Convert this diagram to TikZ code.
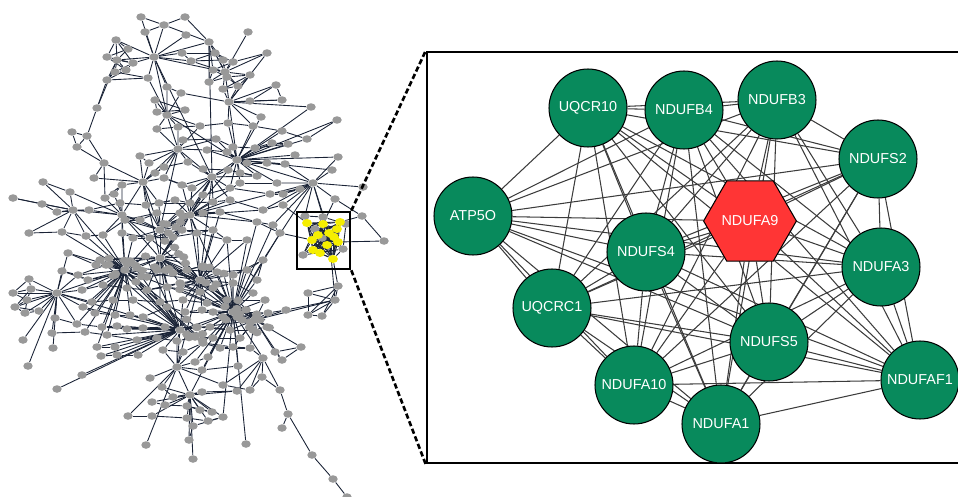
\documentclass[tikz,border=0pt]{standalone}
\usepackage{fontspec}
\setmainfont{Liberation Sans}
\usepackage{tikz}
\usetikzlibrary{shapes.geometric,backgrounds}
\definecolor{navy}{HTML}{1A2336}
\definecolor{dotgray}{HTML}{999999}
\definecolor{hitcol}{HTML}{F5EE00}
\definecolor{genegreen}{HTML}{088A5C}
\definecolor{seedred}{HTML}{FF3535}
\definecolor{wire}{HTML}{3C3C3C}

% gray leaves of the network: x/y/first hub/second hub
\newcommand{\netleaves}{141/17/ha/ha, 185/17/hc/hc, 164/25/ha/hc, 145/32/ha/ha, 248/32/hd/hd,
  186/35/ha/ha, 128/49/hb/hb, 116/40/hb/ha, 107/57/hb/hb, 133/63/hb/ha, 126/70/hb/hb,
  115/72/hb/hb, 107/80/hb/hf, 148/78/ha/hj, 182/53/ha/ha, 191/61/ha/hd, 215/53/hd/hd,
  223/60/hd/hc, 233/62/hd/hd, 267/53/hd/he, 213/70/hd/hc, 209/82/hd/hc, 227/77/hd/hd,
  250/75/hd/he, 238/86/hd/he, 223/89/hd/he, 167/87/ha/hj, 181/93/hj/he, 276/85/he/he,
  250/101/he/he, 282/100/he/he, 155/100/hj/hj, 157/112/hj/hj, 185/110/hj/hj, 311/107/he/hi,
  261/117/he/hi, 72/132/hg/hg, 77/147/hg/hh, 157/129/hj/hk, 178/127/hj/hk, 200/126/hj/hk,
  228/123/he/hi, 253/126/he/hi, 282/131/hi/hi, 337/120/hi/hi, 307/139/hi/hi, 183/140/hk/hk,
  216/139/hi/hk, 233/147/hi/hi, 255/148/hi/hi, 272/143/hi/hi, 288/144/hi/hi, 140/156/hk/hm,
  149/163/hk/hm, 338/157/hi/hB, 295/155/hi/hi, 207/150/hk/hi, 227/152/hi/hi, 247/163/hi/hi,
  267/163/hi/hi, 285/164/hi/hB, 188/162/hk/hl, 164/167/hk/hm, 155/173/hm/hm, 203/169/hl/hl,
  228/170/hi/hl, 240/173/hi/hi, 257/176/hi/hl, 332/170/hB/hi, 94/178/hh/hm, 164/178/hm/hk,
  182/185/hl/hp, 192/188/hl/hp, 240/183/hi/hp, 277/183/hi/hB, 363/187/hB/hB, 43/182/hD/hD,
  70/192/hD/hn, 122/185/hm/hn, 114/194/hn/hn, 105/198/hn/hh, 203/195/hl/hp, 230/188/hl/hi,
  270/194/hB/hp, 283/194/hB/hB, 300/189/hB/hB, 13/198/hD/hD, 42/204/hD/hD, 57/212/hD/hD,
  89/210/hn/hD, 120/203/hn/hn, 146/205/hm/ho, 159/203/hm/ho, 175/200/hp/hp, 190/203/hp/hp,
  213/202/hp/hl, 230/200/hp/hl, 263/210/hp/hB, 283/205/hB/y1, 335/199/hB/y2, 362/216/y3/y3,
  384/241/y7/y7, 29/233/hD/hD, 62/232/hD/hq, 86/236/hD/hq, 103/235/hn/hq, 125/220/hn/ho,
  140/220/ho/hn, 157/213/ho/ho, 180/213/hp/ho, 203/213/hp/hp, 220/212/hp/hs, 257/222/hp/ht,
  273/225/hB/ht, 280/233/ht/y8, 122/233/hq/hn, 133/238/hq/ho, 150/238/ho/ho, 173/237/ho/hr,
  182/230/hp/hr, 197/233/hp/hs, 213/230/hp/hs, 227/240/hs/ht, 247/240/hs/ht, 68/253/hv/hq,
  96/265/hq/hq, 106/265/hq/hq, 62/271/hv/hv, 78/275/hv/hq, 88/280/hq/hq, 115/275/hq/hq,
  137/268/hq/hr, 147/277/hq/hr, 157/270/hr/hr, 173/273/hr/hs, 187/270/hs/hr, 203/266/hs/hs,
  217/272/hs/ht, 233/275/hs/ht, 247/270/ht/ht, 263/260/ht/hB, 257/280/ht/ht, 29/279/hv/hv,
  13/293/hv/hv, 31/289/hv/hv, 27/300/hv/hv, 15/307/hv/hv, 25/313/hv/hv, 39/311/hv/hv,
  82/290/hq/hv, 103/285/hq/hq, 127/288/hq/hq, 147/290/hq/hr, 167/287/hr/hr, 180/283/hr/hs,
  200/292/hs/hs, 213/288/hs/hs, 233/283/ht/hs, 253/293/ht/ht, 92/302/hq/hv, 113/300/hq/hq,
  133/300/hq/hw, 160/302/hr/hw, 183/300/hs/hw, 207/303/hs/ht, 227/300/ht/ht, 265/300/ht/hu,
  308/293/hC/hC, 338/286/hC/y13, 308/315/hC/hC, 322/316/hC/hC, 83/307/hv/hq, 95/313/hq/hq,
  115/315/hq/hw, 130/315/hq/hw, 143/317/hw/hw, 167/307/hw/hr, 185/312/hw/hs, 202/310/hs/ht,
  213/312/ht/ht, 223/317/ht/ht, 237/317/ht/hu, 268/313/hu/ht, 286/310/hu/hC, 55/318/hv/hv,
  77/324/hv/hq, 102/327/hq/hw, 117/326/hw/hw, 127/329/hw/hw, 143/328/hw/hw, 165/327/hw/hw,
  197/327/hw/ht, 210/327/ht/ht, 230/330/ht/hu, 253/330/hu/hu, 267/327/hu/hu, 52/333/hv/hv,
  85/332/hq/hq, 107/335/hw/hq, 137/340/hw/hw, 157/338/hw/hw, 177/341/hw/hy, 195/337/ht/hw,
  213/338/ht/ht, 240/338/hu/ht, 23/340/hv/hv, 97/347/hw/hq, 115/347/hw/hw, 163/350/hw/hy,
  183/352/hy/hy, 203/343/ht/hy, 220/348/ht/ht, 233/347/hu/hu, 250/348/hu/hE, 53/348/hv/hv,
  101/356/hw/hw, 117/355/hw/hw, 138/355/hw/hw, 195/362/hy/ht, 208/357/ht/ht, 275/352/hu/hu,
  282/360/hu/hu, 301/347/hu/hu, 28/366/hv/hv, 202/370/hy/ht, 238/366/ht/ht, 82/375/hw/hw,
  150/378/hy/hy, 262/377/hE/hz, 250/390/hE/hE, 57/389/hw/hw, 223/385/hE/hy, 162/387/hx/hy,
  173/397/hx/hx, 202/392/hx/hx, 237/391/hE/hx, 152/402/hx/hx, 165/405/hx/hx, 187/406/hx/hx,
  200/410/hx/hx, 212/412/hx/hx, 128/416/hy/hy, 152/416/hx/hx, 187/418/hx/hx, 208/421/hx/hx,
  223/417/hx/ht, 282/428/hz1/hz1, 193/426/hx/hx, 189/440/hx/hx, 146/445/hy/hy, 246/444/ht/ht,
  193/459/hx/hx, 347/497/hz3/hz3, 305/216/hB/y1, 323/217/y2/hB, 346/224/y3/y3,
  315/229/y9/y1, 343/249/y7/y13, 303/255/y11/y8, 322/238/y8/y10}
% dense core: hub/partner
\newcommand{\corehubs}{hq/hr, hr/hs, hs/ht, ht/hu, hw/hq, hu/hs, ho/hp, hq/hw}

\begin{document}
\begin{tikzpicture}[x=0.02cm, y=-0.02cm,
    gnode/.style={ellipse, fill=dotgray, minimum width=0.19cm, minimum height=0.15cm, inner sep=0pt},
    hitnode/.style={gnode, fill=hitcol, minimum width=0.2cm, minimum height=0.16cm},
    net/.style={draw=navy, line width=0.5pt},
    gene/.style={circle, draw=black, line width=0.6pt, fill=genegreen, minimum size=1.56cm, inner sep=0pt,
      text=white, font=\fontsize{8.2}{9.8}\selectfont},
    seed/.style={regular polygon, regular polygon sides=6, draw=black, line width=0.6pt, fill=seedred,
      minimum size=1.66cm, inner sep=0pt, text=white, font=\fontsize{8.2}{9.8}\selectfont},
    ppi/.style={draw=wire, line width=0.6pt},
    frame/.style={draw=black, line width=1.5pt, inner sep=0pt},
    zoomline/.style={draw=black, line width=1.5pt, dash pattern=on 3pt off 1.6pt}
  ]
  \useasboundingbox (0,0) rectangle (958,497);

  % hubs of the network
  \foreach \n/\x/\y in {ha/154/57, hb/117/60, hc/209/42, hd/225/72, he/229/102, hf/97/108,
      hg/87/136, hh/104/163, hi/237/160, hj/167/115, hk/178/149, hl/212/177, hm/143/182,
      hn/122/215, ho/160/230, hp/190/215, hq/125/270, hr/160/258, hs/200/280, ht/233/312,
      hu/255/320, hv/57/293, hw/180/330, hx/190/395, hy/177/367, hz/280/390, hz1/288/414,
      hz2/312/455, hz3/333/479, hB/313/183, hC/335/300, hD/73/210, hE/263/358}
    \node[gnode] (\n) at (\x,\y) {};
  \foreach \x/\y/\p/\q [count=\i] in \netleaves
    \node[gnode] (l\i) at (\x,\y) {};
  \pgfmathsetseed{11}
  \foreach \h/\g in \corehubs {
    \foreach \k in {1,...,7} {
      \pgfmathsetmacro\dx{rand*26}\pgfmathsetmacro\dy{rand*15}
      \node[gnode] (c\h\k) at ([shift={(\dx,\dy)}]\h) {};
    }
  }
  % yellow cluster
  \foreach \n/\x/\y in {y1/307/223, y2/323/224, y3/340/222, y4/337/229, y5/329/233, y6/334/237,
      y7/338/242, y8/312/240, y9/318/235, y10/327/245, y11/313/250, y12/320/253, y13/333/259}
    \node[hitnode] (\n) at (\x,\y) {};

  \begin{pgfonlayer}{background}
    \foreach \a/\b in {ha/hb, ha/hc, ha/hj, ha/hd, hb/hf, hf/hg, hg/hh, hh/hm, hc/hd, hc/hl,
        hd/he, he/hi, hj/hk, hk/hl, hj/hi, hi/hl, hl/hp, hm/hn, hm/ho, hk/ho, hn/hq, ho/hr,
        hp/hr, hq/hr, hr/hs, hs/ht, ht/hu, hq/hv, hr/hw, hw/hy, hy/hx, ht/hE, hE/hz, hz/hz1,
        hz1/hz2, hz2/hz3, hu/hC, hi/hB, hB/y5, y5/hC, hp/hs, hD/hq, hD/hn, hl/hs, hi/hp, hw/ht,
        hq/hw, hs/hu, ho/hq, hp/ho, hn/ho, hr/ht, hq/hs, hk/hm, hl/ho, hx/ht, hy/hs,
        ha/hl, hn/hr, ho/hs, hp/ht, hq/ht, hr/hu, hm/hr, hw/hu, hv/hw, hn/hs, hl/hr}
      \draw[net] (\a) -- (\b);
    \gdef\px{-99}\gdef\py{-99}\gdef\ppx{-99}\gdef\ppy{-99}
    \foreach \x/\y/\p/\q [count=\i] in \netleaves {
      \draw[net] (l\i) -- (\p) (l\i) -- (\q);
      \pgfmathtruncatemacro\near{veclen(\x-\px,\y-\py)<42}
      \ifnum\near=1 \pgfmathtruncatemacro\k{\i-1}\draw[net] (l\i) -- (l\k); \fi
      \pgfmathtruncatemacro\near{veclen(\x-\ppx,\y-\ppy)<34}
      \ifnum\near=1 \pgfmathtruncatemacro\k{\i-2}\draw[net] (l\i) -- (l\k); \fi
      \xdef\ppx{\px}\xdef\ppy{\py}\xdef\px{\x}\xdef\py{\y}
    }
    \foreach \h/\g in \corehubs {
      \foreach \k in {1,...,7} {
        \draw[net] (c\h\k) -- (\h);
        \ifodd\k \draw[net] (c\h\k) -- (\g); \fi
      }
    }
    \foreach \i in {1,...,13}
      \foreach \j in {\i,...,13}
        \draw[net] (y\i) -- (y\j);
  \end{pgfonlayer}

  % zoomed panel
  \node[frame, draw, minimum width=1.06cm, minimum height=1.14cm] (lens) at (323.5,240.5) {};
  \node[frame, draw, minimum width=10.86cm, minimum height=8.22cm] (panel) at (698.5,257.5) {};
  \draw[zoomline] (lens.north east) -- (panel.north west);
  \draw[zoomline] (lens.south east) -- (panel.south west);

  \node[gene] (uqcr10) at (588,108) {UQCR10};
  \node[gene] (ndufb4) at (684,110) {NDUFB4};
  \node[gene] (ndufb3) at (777,100) {NDUFB3};
  \node[gene] (ndufs2) at (878,159) {NDUFS2};
  \node[seed] (ndufa9) at (750,221) {NDUFA9};
  \node[gene] (atp5o) at (473,216) {ATP5O};
  \node[gene] (ndufs4) at (646,252) {NDUFS4};
  \node[gene] (ndufa3) at (881,267) {NDUFA3};
  \node[gene] (uqcrc1) at (552,308) {UQCRC1};
  \node[gene] (ndufs5) at (769,342) {NDUFS5};
  \node[gene] (ndufa10) at (634,385) {NDUFA10};
  \node[gene] (ndufaf1) at (920,380) {NDUFAF1};
  \node[gene] (ndufa1) at (721,424) {NDUFA1};

  \begin{pgfonlayer}{background}
    \foreach \a [count=\i] in {uqcr10, ndufb4, ndufb3, ndufs2, ndufa9, atp5o, ndufs4, ndufa3,
        uqcrc1, ndufs5, ndufa10, ndufaf1, ndufa1} {
      \foreach \b [count=\j] in {uqcr10, ndufb4, ndufb3, ndufs2, ndufa9, atp5o, ndufs4, ndufa3,
          uqcrc1, ndufs5, ndufa10, ndufaf1, ndufa1} {
        \ifnum\j>\i \draw[ppi] (\a) -- (\b); \fi
      }
    }
  \end{pgfonlayer}
\end{tikzpicture}
\end{document}
